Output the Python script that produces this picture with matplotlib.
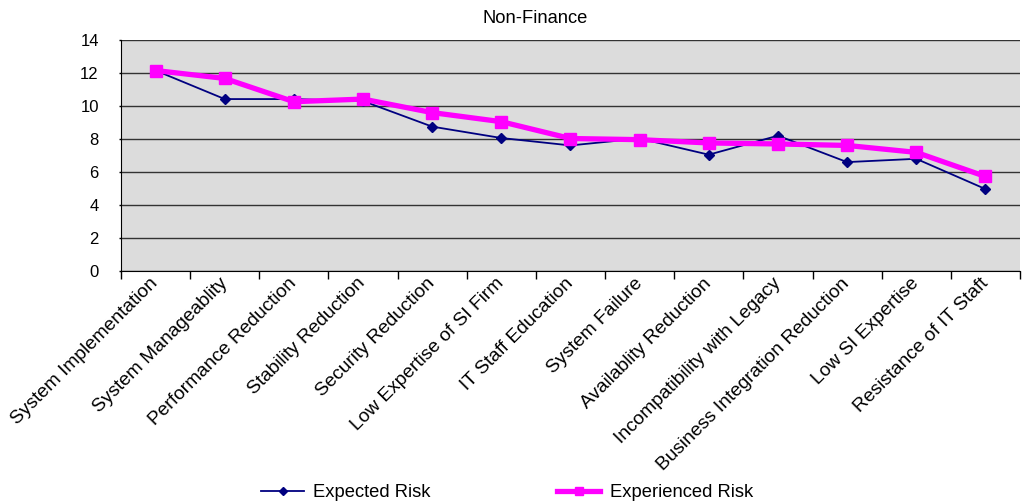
import matplotlib
matplotlib.use("Agg")
import matplotlib.pyplot as plt
import numpy as np

plt.rcParams['font.family'] = ['Liberation Sans', 'DejaVu Sans']

categories = [
    "System Implementation", "System Manageablity", "Performance Reduction",
    "Stability Reduction", "Security Reduction", "Low Expertise of SI Firm",
    "IT Staff Education", "System Failure", "Availablity Reduction",
    "Incompatibility with Legacy", "Business Integration Reduction",
    "Low SI Expertise", "Resistance of IT Staft",
]
expected_risk = [12.15, 10.42, 10.42, 10.30, 8.75, 8.06, 7.61, 8.03, 7.05, 8.20, 6.60, 6.80, 4.97]
experienced_risk = [12.15, 11.67, 10.26, 10.42, 9.60, 9.05, 8.03, 7.96, 7.76, 7.70, 7.61, 7.19, 5.73]
y_ticks = [0, 2, 4, 6, 8, 10, 12, 14]

fig = plt.figure(figsize=(10.22, 5.03), dpi=100)
ax = fig.add_axes([0.1184, 0.4612, 0.8796, 0.4593])
ax.set_facecolor('#DCDCDC')

x = np.arange(len(categories))
ax.plot(x, expected_risk, color='#000080', lw=1.3, marker='D', ms=5,
        label='Expected Risk', zorder=3)
ax.plot(x, experienced_risk, color='#FF00FF', lw=3.8, marker='s', ms=8,
        label='Experienced Risk', zorder=4)

ax.set_xlim(-0.5, len(categories) - 0.5)
ax.set_ylim(0, 14)
ax.set_yticks(y_ticks)
ax.tick_params(axis='y', labelsize=12, length=1.5, width=1, direction='out', pad=14.5)
ax.yaxis.grid(True, color='#333333', lw=1)
ax.set_axisbelow(True)

ax.set_xticks(x)
ax.set_xticklabels(categories, rotation=45, ha='right', va='center',
                   rotation_mode='anchor', fontsize=13.8)
ax.tick_params(axis='x', which='major', length=0, pad=7)
ax.set_xticks(np.arange(len(categories) + 1) - 0.5, minor=True)
ax.tick_params(axis='x', which='minor', length=6, width=1, direction='out')

for side in ['top', 'right']:
    ax.spines[side].set_visible(False)
ax.spines['left'].set_color('#000000')
ax.spines['bottom'].set_color('#000000')

fig.text(0.5235, 0.964, 'Non-Finance', ha='center', va='center', fontsize=13.2)

fig.legend(loc='center', bbox_to_anchor=(0.496, 0.02), ncol=2, frameon=False,
           fontsize=13.2, columnspacing=6.9, handlelength=2.35, handletextpad=0.5,
           markerscale=0.75)

fig.savefig('out.png', dpi=100)
